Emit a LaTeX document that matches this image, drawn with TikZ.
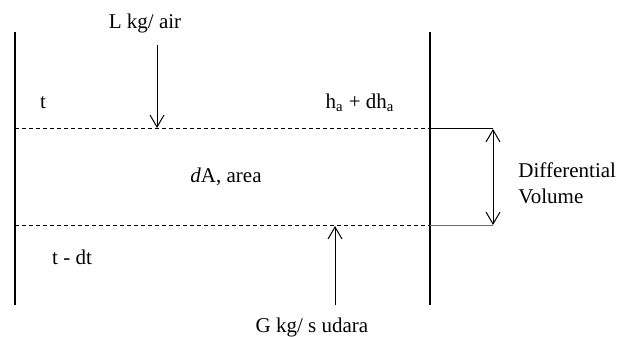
\documentclass[tikz,border=0pt]{standalone}
\usepackage{fontspec}
\setmainfont{Liberation Serif}
\usetikzlibrary{arrows.meta}

\definecolor{edgeblue}{RGB}{70,110,200}

\tikzset{
    wall/.style={line width=1pt, black},
    level/.style={line width=0.5pt, dash pattern=on 2pt off 1.5pt},
    flow/.style={line width=0.5pt, -{Straight Barb[length=6pt, width=7pt]}},
    span/.style={line width=0.5pt, {Straight Barb[length=6pt, width=7pt]}-{Straight Barb[length=6pt, width=7pt]}},
    label/.style={inner sep=0pt, font=\fontsize{10.5}{13}\selectfont}
}

\begin{document}
\begin{tikzpicture}[x=0.5pt, y=-0.5pt]
    \useasboundingbox (0,0) rectangle (624,336);

    % walls of the column
    \coordinate (lwtop) at (15,32);
    \coordinate (lwbot) at (15,305);
    \coordinate (rwtop) at (430,32);
    \coordinate (rwbot) at (430,305);
    \draw[wall] (lwtop) -- (lwbot);
    \draw[wall] (rwtop) -- (rwbot);

    % upper and lower level of the slice
    \coordinate (upl) at (15,129);
    \coordinate (upr) at (430,129);
    \coordinate (lol) at (15,225);
    \coordinate (lor) at (430,225);
    \draw[level] (upl) -- (upr);
    \draw[level] (lol) -- (lor);

    % height marker on the right
    \coordinate (mtop) at (493,129);
    \coordinate (mbot) at (493,225);
    \draw[line width=0.5pt] (upr) -- (mtop);
    \draw[line width=0.5pt, edgeblue] (lor) -- (mbot);
    \draw[span] (mtop) -- (mbot);

    % flows
    \node[label] (water) at (145,23) {L kg/ air};
    \coordinate (wtail) at (157,45);
    \coordinate (whead) at (157,128);
    \draw[flow] (wtail) -- (whead);

    \node[label] (air) at (312,327) {G kg/ s udara};
    \coordinate (atail) at (335,305);
    \coordinate (ahead) at (335,226);
    \draw[flow] (atail) -- (ahead);

    % labels
    \node[label] (ttop) at (43,103) {t};
    \node[label] (tbot) at (72,257) {t - dt};
    \node[label] (enth) at (360,103) {h\textsubscript{a} + dh\textsubscript{a}};
    \node[label] (area) at (226,177) {\textit{d}A, area};
    \node[label, anchor=west, align=left] (vol) at (518,183) {Differential\\Volume};
\end{tikzpicture}
\end{document}
